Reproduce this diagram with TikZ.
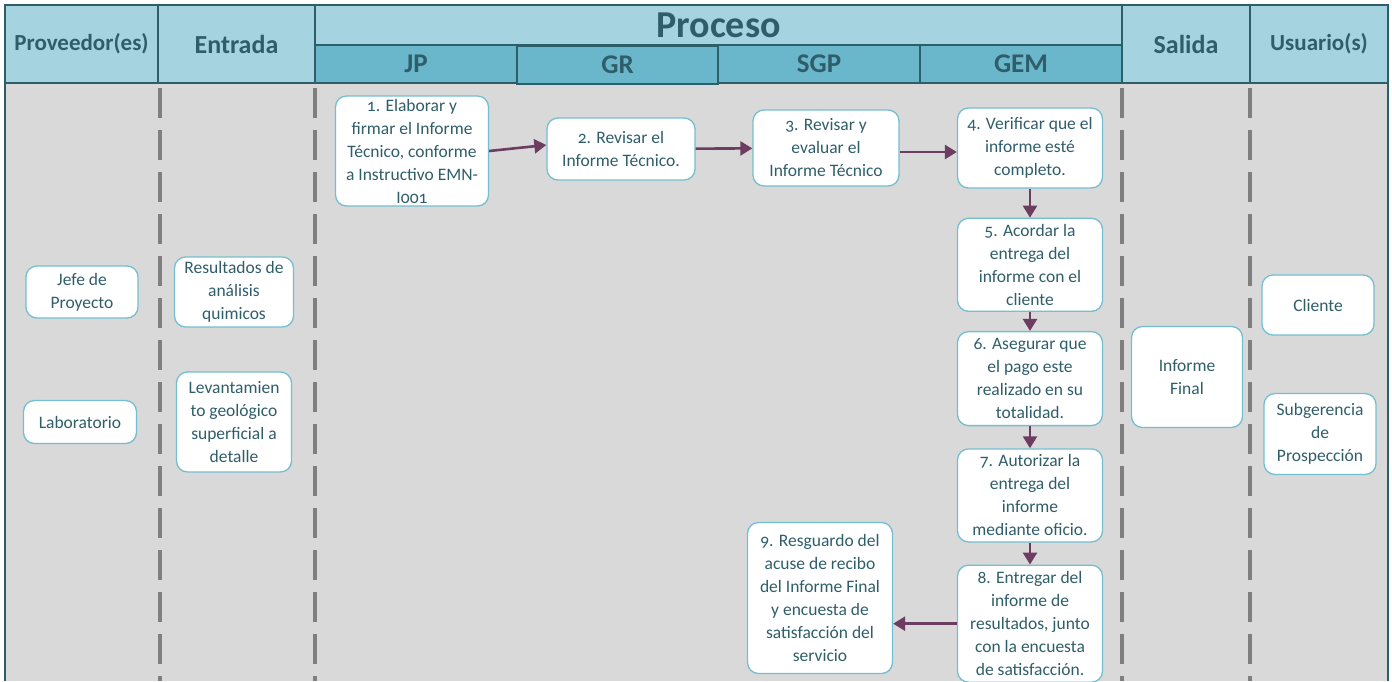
\documentclass[tikz,border=0pt]{standalone}
\usepackage{fontspec}
\setmainfont{Carlito}[Numbers=OldStyle]
\usetikzlibrary{arrows.meta,positioning}
\definecolor{ink}{HTML}{2F5E6A}
\definecolor{rim}{HTML}{2D5F6B}
\definecolor{frame}{HTML}{74BED1}
\definecolor{headlight}{HTML}{A5D4E0}
\definecolor{headdark}{HTML}{6AB6CB}
\definecolor{lane}{HTML}{D9D9D9}
\definecolor{flow}{HTML}{6C3D60}
\definecolor{sep}{HTML}{7F7F7F}

\begin{document}
\begin{tikzpicture}[
  x=1pt, y=-1pt,
  head/.style={draw=rim, line width=1.3pt, fill=headlight, text=ink, align=center, inner sep=0pt, font=\bfseries\fontsize{23}{26}\selectfont},
  subhead/.style={head, fill=headdark, font=\bfseries\fontsize{27}{30}\selectfont},
  actbox/.style={draw=frame, line width=1.3pt, fill=white, rounded corners=11pt, align=center, text=ink, inner sep=1pt, font=\fontsize{17.5}{23}\selectfont},
  sepline/.style={draw=sep, line width=4pt, dash pattern=on 30pt off 12pt},
  arr/.style={-{Triangle[length=12pt,width=14pt]}, line width=2.6pt, draw=flow}
]
\useasboundingbox (0,0) rectangle (1392,681);
\fill[lane] (5,83) rectangle (1388,681);
\draw[rim, line width=1.5pt] (5,83) -- (5,681) (1388,83) -- (1388,681);
\foreach \x in {160,315,1122,1250}
  \draw[sepline] (\x,88) -- (\x,681);

% header row
\node[head, minimum width=153pt, minimum height=78pt] (prov) at (81.5,44) {Proveedor(es)};
\node[head, minimum width=157pt, minimum height=78pt, font=\bfseries\fontsize{26}{30}\selectfont] (entr) at (236.5,44) {Entrada};
\node[head, minimum width=807pt, minimum height=40pt, font=\bfseries\fontsize{38}{40}\selectfont] (proc) at (718.5,25) {Proceso};
\node[subhead, minimum width=202pt, minimum height=38pt] (jp) at (416,64) {JP};
\node[subhead, minimum width=201pt, minimum height=38pt] (gr) at (617.5,65) {GR};
\node[subhead, minimum width=202pt, minimum height=38pt] (sgp) at (819,64) {SGP};
\node[subhead, minimum width=202pt, minimum height=38pt] (gem) at (1021,64) {GEM};
\node[head, minimum width=128pt, minimum height=78pt, font=\bfseries\fontsize{26}{30}\selectfont] (sal) at (1186,44) {Salida};
\node[head, minimum width=138pt, minimum height=78pt] (usr) at (1319,44) {Usuario(s)};

% suppliers and inputs
\node[actbox, minimum width=112pt, minimum height=52pt] (jefe) at (82,292) {Jefe de\\Proyecto};
\node[actbox, minimum width=113pt, minimum height=43pt] (lab) at (80,422) {Laboratorio};
\node[actbox, minimum width=119pt, minimum height=70pt] (res) at (234,292) {Resultados de\\análisis\\quimicos};
\node[actbox, minimum width=115pt, minimum height=100pt] (lev) at (234,422) {Levantamien\\to geológico\\superficial a\\detalle};

% process
\node[actbox, minimum width=153pt, minimum height=110pt] (s1) at (412,151) {1. Elaborar y\\firmar el Informe\\Técnico, conforme\\a Instructivo EMN-\\I001};
\node[actbox, minimum width=148pt, minimum height=62pt] (s2) at (621,149) {2. Revisar el\\Informe Técnico.};
\node[actbox, minimum width=146pt, minimum height=76pt] (s3) at (826,148) {3. Revisar y\\evaluar el\\Informe Técnico};
\node[actbox, minimum width=145pt, minimum height=80pt] (s4) at (1030,148) {4. Verificar que el\\informe esté\\completo.};
\node[actbox, minimum width=145pt, minimum height=93pt, below=29pt of s4] (s5) {5. Acordar la\\entrega del\\informe con el\\cliente};
\node[actbox, minimum width=145pt, minimum height=94pt, below=19pt of s5] (s6) {6. Asegurar que\\el pago este\\realizado en su\\totalidad.};
\node[actbox, minimum width=145pt, minimum height=93pt, below=22pt of s6] (s7) {7. Autorizar la\\entrega del\\informe\\mediante oficio.};
\node[actbox, minimum width=145pt, minimum height=117pt, below=22pt of s7] (s8) {8. Entregar del\\informe de\\resultados, junto\\con la encuesta\\de satisfacción.};
\node[actbox, minimum width=145pt, minimum height=151pt] (s9) at (820,598) {9. Resguardo del\\acuse de recibo\\del Informe Final\\y encuesta de\\satisfacción del\\servicio};

% outputs and users
\node[actbox, minimum width=111pt, minimum height=101pt] (fin) at (1187,377) {Informe\\Final};
\node[actbox, minimum width=112pt, minimum height=60pt] (cli) at (1318,305) {Cliente};
\node[actbox, minimum width=112pt, minimum height=81pt] (sub) at (1320,434) {Subgerencia\\de\\Prospección};

\draw[arr] (s1.east) -- ([yshift=4pt]s2.west);
\draw[arr] (s2) -- (s3);
\draw[arr] ([yshift=-4pt]s3.east) -- ([yshift=-4pt]s4.west);
\draw[arr] (s4) -- (s5);
\draw[arr] (s5) -- (s6);
\draw[arr] (s6) -- (s7);
\draw[arr] (s7) -- (s8);
\draw[arr] (s8.west) -- (s8.west -| s9.east);
\end{tikzpicture}
\end{document}
